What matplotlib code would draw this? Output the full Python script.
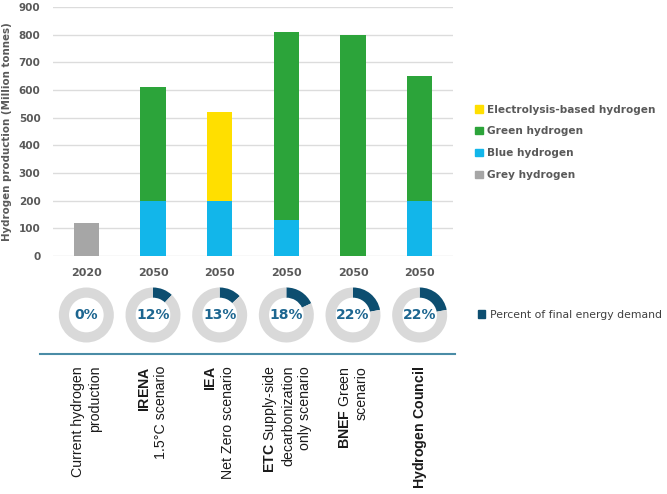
"""
    Hydrogen production scenarios, 2020 vs 2050
"""

import numpy as np
import matplotlib
matplotlib.use("Agg")
import matplotlib.pyplot as plt
from matplotlib.patches import Patch
from matplotlib.lines import Line2D

plt.rcParams['font.family'] = ['DejaVu Sans']
plt.rcParams['mathtext.fontset'] = 'custom'
plt.rcParams['mathtext.rm'] = 'Liberation Sans'
plt.rcParams['mathtext.bf'] = 'Liberation Sans:bold'

years = ["2020", "2050", "2050", "2050", "2050", "2050"]
grey = [120, 0, 0, 0, 0, 0]
blue = [0, 200, 200, 130, 0, 200]
green = [0, 410, 0, 680, 800, 450]
electro = [0, 0, 320, 0, 0, 0]
share = [0, 12, 13, 18, 22, 22]
labels = [
    "Current hydrogen\nproduction",
    "$\\bf{IRENA}$\n1.5°C scenario",
    "$\\bf{IEA}$\nNet Zero scenario",
    "$\\bf{ETC}$ Supply-side\ndecarbonization\nonly scenario",
    "$\\bf{BNEF}$ Green\nscenario",
    "$\\bf{Hydrogen\\ Council}$",
]

c_grey = '#a6a6a6'
c_blue = '#12b6ea'
c_green = '#2ca43a'
c_yellow = '#ffdf00'
c_navy = '#0d4e70'
c_ring = '#d9d9d9'
c_text = '#595959'

W, H = 667, 494
fig = plt.figure(figsize=(W / 100, H / 100), dpi=100)

# main stacked bar chart
ax = fig.add_axes([53 / W, 1 - 256 / H, 400 / W, 249 / H])
x = np.arange(len(years))
bw = 0.38
ax.bar(x, grey, bw, color=c_grey)
ax.bar(x, blue, bw, bottom=grey, color=c_blue)
b2 = np.array(grey) + np.array(blue)
ax.bar(x, green, bw, bottom=b2, color=c_green)
b3 = b2 + np.array(green)
ax.bar(x, electro, bw, bottom=b3, color=c_yellow)

ax.set_xlim(-0.5, 5.5)
ax.set_ylim(0, 900)
ax.set_yticks(np.arange(0, 901, 100))
ax.set_xticks(x)
ax.set_xticklabels(years)
for s in ax.spines.values():
    s.set_visible(False)
ax.grid(axis='y', color='#dcdcdc', lw=1)
ax.set_axisbelow(True)
ax.tick_params(length=0, labelsize=7.5, labelcolor=c_text)
ax.tick_params(axis='y', pad=9)
ax.tick_params(axis='x', pad=9, labelsize=8)
for t in ax.get_xticklabels() + ax.get_yticklabels():
    t.set_fontweight('bold')
ax.set_ylabel('Hydrogen production (Million tonnes)', fontsize=7.4,
              fontweight='bold', color=c_text, labelpad=5)

handles = [Patch(color=c_yellow, label='Electrolysis-based hydrogen'),
           Patch(color=c_green, label='Green hydrogen'),
           Patch(color=c_blue, label='Blue hydrogen'),
           Patch(color=c_grey, label='Grey hydrogen')]
fig.legend(handles=handles, loc='upper left', bbox_to_anchor=(466 / W, 1 - 95 / H),
           frameon=False, handlelength=0.7, handleheight=0.7, handletextpad=0.4,
           labelspacing=1.12, prop={'weight': 'bold', 'size': 7.6}, labelcolor=c_text)

# donuts with share of final energy demand
dax = fig.add_axes([53 / W, 1 - 350 / H, 400 / W, 70 / H])
r = 27.5 / (400 / 6)
for i, p in enumerate(share):
    dax.pie([p, 100 - p], colors=[c_navy, c_ring], center=(i, 0), radius=r,
            startangle=90, counterclock=False,
            wedgeprops=dict(width=r * 0.37, linewidth=0))
    dax.text(i, 0, f"{p}%", ha='center', va='center', fontsize=10,
             fontweight='bold', color='#1d6690')
dax.set_xlim(-0.5, 5.5)
dax.set_ylim(-35 / (400 / 6), 35 / (400 / 6))
dax.set_aspect('auto')
dax.axis('off')

fig.legend(handles=[Patch(color=c_navy, label='Percent of final energy demand')],
           loc='center left', bbox_to_anchor=(468 / W, 1 - 315 / H), frameon=False,
           handlelength=0.7, handleheight=0.7, handletextpad=0.4,
           prop={'size': 7.8}, labelcolor='#404040')

# separator line
fig.add_artist(Line2D([40 / W, 455 / W], [1 - 354 / H, 1 - 354 / H],
                      color='#4a8ca6', lw=1.5))

# scenario labels
for i, lab in enumerate(labels):
    xf = (53 + (i + 0.5) * 400 / 6) / W
    fig.text(xf, 1 - 366 / H, lab, rotation=90, ha='center', va='top',
             multialignment='right', fontsize=10.2, family='Liberation Sans',
             color='#1a1a1a', linespacing=1.25)

fig.savefig('out.png', dpi=100)
